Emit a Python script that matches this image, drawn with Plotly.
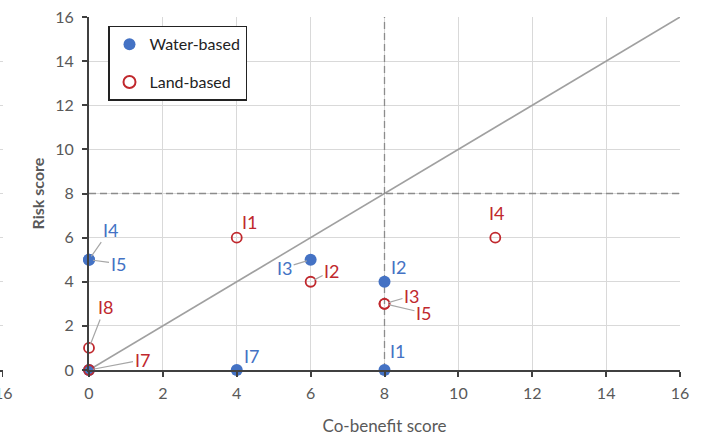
import plotly.graph_objects as go

# Co-benefit vs risk scores for the two option groups
water_x = [0, 0, 6, 8, 8, 4, 0]
water_y = [5, 5, 5, 4, 0, 0, 0]
water_labels = ["I4", "I5", "I3", "I2", "I1", "I7", ""]

land_x = [4, 6, 8, 8, 11, 0, 0]
land_y = [6, 4, 3, 3, 6, 1, 0]
land_labels = ["I1", "I2", "I3", "I5", "I4", "I8", "I7"]

threshold = 8
axis_max = 16
axis_ticks = list(range(0, 17, 2))

BLUE = "#4472C4"
RED = "#C0282D"
GREY_TXT = "#595959"
FONT = "Lato"
LABEL_SIZE = 18

fig = go.Figure()

# parity line (risk = co-benefit) and threshold guides
fig.add_trace(go.Scatter(x=[0, axis_max], y=[0, axis_max], mode="lines",
                         line=dict(color="#A0A0A0", width=1.6),
                         showlegend=False, hoverinfo="skip"))
fig.add_trace(go.Scatter(x=[threshold, threshold], y=[0, axis_max], mode="lines",
                         line=dict(color="#8C8C8C", width=1.3, dash="7px,4px"),
                         showlegend=False, hoverinfo="skip"))
fig.add_trace(go.Scatter(x=[0, axis_max], y=[threshold, threshold], mode="lines",
                         line=dict(color="#8C8C8C", width=1.3, dash="7px,4px"),
                         showlegend=False, hoverinfo="skip"))

fig.add_trace(go.Scatter(x=water_x, y=water_y, mode="markers", name="Water-based",
                         legendgroup="water",
                         marker=dict(color=BLUE, size=12, symbol="circle",
                                     line=dict(width=0)),
                         cliponaxis=False))
fig.add_trace(go.Scatter(x=land_x, y=land_y, mode="markers", name="Land-based",
                         legendgroup="land",
                         marker=dict(color="rgba(255,255,255,0)", size=10,
                                     symbol="circle",
                                     line=dict(color=RED, width=1.8)),
                         cliponaxis=False))

# point labels: (ax, ay, leader line?) offsets in pixels
water_offsets = {
    "I4": (21, -30, True), "I5": (29, 4, True), "I3": (-26, 8, True),
    "I2": (14, -15, False), "I1": (13, -19, False), "I7": (15, -14, False),
}
land_offsets = {
    "I1": (13, -16, False), "I2": (21, -11, True), "I3": (27, -8, True),
    "I5": (39, 9, True), "I4": (1, -25, False), "I8": (16, -41, True),
    "I7": (53, -10, True),
}


def add_labels(xs, ys, labels, offsets, color):
    for x, y, lab in zip(xs, ys, labels):
        if not lab:
            continue
        ax, ay, leader = offsets[lab]
        if leader:
            fig.add_annotation(x=x, y=y, text=lab, showarrow=True,
                               ax=ax, ay=ay, arrowhead=0, arrowwidth=1.2,
                               arrowcolor="#A6A6A6", standoff=4,
                               font=dict(family=FONT, size=LABEL_SIZE, color=color))
        else:
            fig.add_annotation(x=x, y=y, text=lab, showarrow=False,
                               xshift=ax, yshift=-ay,
                               font=dict(family=FONT, size=LABEL_SIZE, color=color))


add_labels(water_x, water_y, water_labels, water_offsets, BLUE)
add_labels(land_x, land_y, land_labels, land_offsets, RED)

# edge of the neighbouring panel on the left
fig.add_trace(go.Scatter(x=[axis_max], y=[0], xaxis="x2", yaxis="y2",
                         mode="markers", marker=dict(opacity=0),
                         showlegend=False, hoverinfo="skip"))
fig.add_annotation(x=axis_max, y=0, xref="x2", yref="y2", text=str(axis_max),
                   showarrow=False, yshift=-22, xshift=1,
                   font=dict(family=FONT, size=16, color=GREY_TXT))

PLOT_W = 680.0
fig.update_layout(
    width=710, height=440,
    margin=dict(l=0, r=30, t=17, b=70, autoexpand=False),
    paper_bgcolor="white", plot_bgcolor="white",
    font=dict(family=FONT, size=16, color=GREY_TXT),
    xaxis=dict(domain=[89 / PLOT_W, 1], range=[0, axis_max], tickvals=axis_ticks,
               showgrid=True, gridcolor="#D9D9D9", gridwidth=1,
               zeroline=False, showline=True, linecolor="#404040", linewidth=2,
               ticks="outside", ticklen=5, tickcolor="#404040", tickwidth=1.5,
               tickfont=dict(size=16, color=GREY_TXT), automargin=False,
               ticklabelstandoff=3,
               title=dict(text="Co-benefit score", standoff=19,
                          font=dict(size=17, color=GREY_TXT))),
    yaxis=dict(range=[0, axis_max], tickvals=axis_ticks,
               showgrid=True, gridcolor="#D9D9D9", gridwidth=1,
               zeroline=False, showline=True, linecolor="#404040", linewidth=2,
               ticks="outside", ticklen=5, tickcolor="#404040", tickwidth=1.5,
               tickfont=dict(size=16, color=GREY_TXT), automargin=False,
               ticklabelstandoff=5,
               title=dict(text="<b>Risk score</b>", standoff=7,
                          font=dict(size=16, color=GREY_TXT))),
    xaxis2=dict(domain=[0, 3 / PLOT_W], anchor="y2", range=[15.6, 16.02],
                tickvals=[axis_max], showgrid=True, gridcolor="#D9D9D9",
                showticklabels=False,
                zeroline=False, showline=True, linecolor="#404040", linewidth=2,
                ticks="outside", ticklen=5, tickcolor="#404040", automargin=False),
    yaxis2=dict(anchor="x2", range=[0, axis_max], tickvals=axis_ticks,
                showticklabels=False, showgrid=True, gridcolor="#D9D9D9",
                zeroline=False, showline=False, automargin=False),
    legend=dict(x=108 / PLOT_W, y=0.975, xanchor="left", yanchor="top",
                bgcolor="white", bordercolor="#222222", borderwidth=1.5,
                font=dict(family=FONT, size=16, color="#222222"),
                itemsizing="constant", traceorder="grouped", tracegroupgap=14,
                itemwidth=30),
)

fig.write_html("out.html")
